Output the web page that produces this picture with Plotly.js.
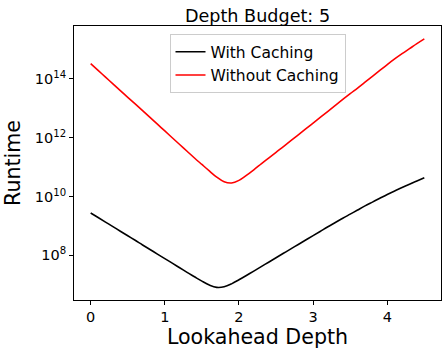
<!DOCTYPE html>
<html>
<head>
<meta charset="utf-8">
<script src="https://cdn.plot.ly/plotly-3.0.1.min.js"></script>
<style>
  html, body { margin: 0; padding: 0; background: #fff; }
  #chart { width: 448px; height: 354px; }
</style>
</head>
<body>
<div id="chart"></div>
<script>
// lookahead depth samples
var depth = [0, 0.1, 0.2, 0.3, 0.4, 0.5, 0.6, 0.7, 0.8, 0.9,
             1.0, 1.1, 1.2, 1.3, 1.4, 1.5, 1.6, 1.7, 1.8, 1.9,
             2.0, 2.1, 2.2, 2.3, 2.4, 2.5, 2.6, 2.7, 2.8, 2.9,
             3.0, 3.1, 3.2, 3.3, 3.4, 3.5, 3.6, 3.7, 3.8, 3.9,
             4.0, 4.1, 4.2, 4.3, 4.4, 4.5];

// runtime
var withCaching = [2.75e9, 1.93e9, 1.35e9, 9.42e8, 6.61e8, 4.61e8, 3.24e8, 2.25e8, 1.58e8, 1.10e8,
                   7.71e7, 5.40e7, 3.77e7, 2.63e7, 1.86e7, 1.32e7, 9.77e6, 8.13e6, 8.51e6, 1.07e7,
                   1.47e7, 2.06e7, 2.91e7, 4.12e7, 5.83e7, 8.26e7, 1.17e8, 1.66e8, 2.34e8, 3.31e8,
                   4.68e8, 6.61e8, 9.33e8, 1.30e9, 1.82e9, 2.51e9, 3.47e9, 4.79e9, 6.46e9, 8.71e9,
                   1.17e10, 1.55e10, 2.02e10, 2.63e10, 3.39e10, 4.37e10];

var withoutCaching = [3.31e14, 1.95e14, 1.15e14, 6.76e13, 3.98e13, 2.37e13, 1.41e13, 8.32e12, 4.90e12, 2.88e12,
                      1.70e12, 1.00e12, 5.89e11, 3.47e11, 2.04e11, 1.23e11, 7.41e10, 4.57e10, 3.16e10, 2.88e10,
                      3.55e10, 5.25e10, 8.13e10, 1.29e11, 2.04e11, 3.20e11, 5.01e11, 7.94e11, 1.26e12, 2.00e12,
                      3.16e12, 5.01e12, 7.94e12, 1.26e13, 2.00e13, 3.16e13, 4.90e13, 7.76e13, 1.23e14, 1.95e14,
                      3.09e14, 4.79e14, 7.24e14, 1.07e15, 1.58e15, 2.29e15];

var yTickVals = [1e8, 1e10, 1e12, 1e14];
var yTickText = ['10<sup>8</sup>', '10<sup>10</sup>', '10<sup>12</sup>', '10<sup>14</sup>'];

var font = 'DejaVu Sans, sans-serif';

var trace1 = {
    x: depth,
    y: withCaching,
    name: 'With Caching',
    type: 'scatter',
    mode: 'lines',
    line: {color: '#000000', width: 1.6, shape: 'spline', smoothing: 1}
};

var trace2 = {
    x: depth,
    y: withoutCaching,
    name: 'Without Caching',
    type: 'scatter',
    mode: 'lines',
    line: {color: '#ff0000', width: 1.6, shape: 'spline', smoothing: 1}
};

var layout = {
    width: 448,
    height: 354,
    margin: {l: 74, r: 7, t: 26, b: 54},
    paper_bgcolor: '#ffffff',
    plot_bgcolor: '#ffffff',
    font: {family: font, color: '#000000', size: 14},
    title: {
        text: 'Depth Budget: 5',
        font: {family: font, size: 17.6, color: '#000000'},
        x: 0.5, xref: 'paper',
        y: 1, yref: 'paper', yanchor: 'bottom',
        pad: {b: 4}
    },
    xaxis: {
        title: {text: 'Lookahead Depth', font: {family: font, size: 20.6}, standoff: 5},
        range: [-0.225, 4.725],
        tickvals: [0, 1, 2, 3, 4],
        ticks: 'outside', ticklen: 4, tickwidth: 1, tickcolor: '#000',
        tickfont: {family: font, size: 14.5},
        showgrid: false, zeroline: false,
        showline: true, linecolor: '#000', linewidth: 1, mirror: true
    },
    yaxis: {
        title: {text: 'Runtime', font: {family: font, size: 20.6}, standoff: 8},
        type: 'log',
        range: [6.48, 15.8],
        tickvals: yTickVals,
        ticktext: yTickText,
        ticks: 'outside', ticklen: 4, tickwidth: 1, tickcolor: '#000',
        tickfont: {family: font, size: 14.5},
        showgrid: false, zeroline: false,
        showline: true, linecolor: '#000', linewidth: 1, mirror: true
    },
    legend: {
        x: 0.5, xanchor: 'center',
        y: 0.97, yanchor: 'top',
        bgcolor: '#ffffff',
        bordercolor: '#cccccc',
        borderwidth: 1,
        itemwidth: 30,
        font: {family: font, size: 15.5}
    },
    showlegend: true
};

Plotly.newPlot('chart', [trace1, trace2], layout, {staticPlot: true, displayModeBar: false});
</script>
</body>
</html>
